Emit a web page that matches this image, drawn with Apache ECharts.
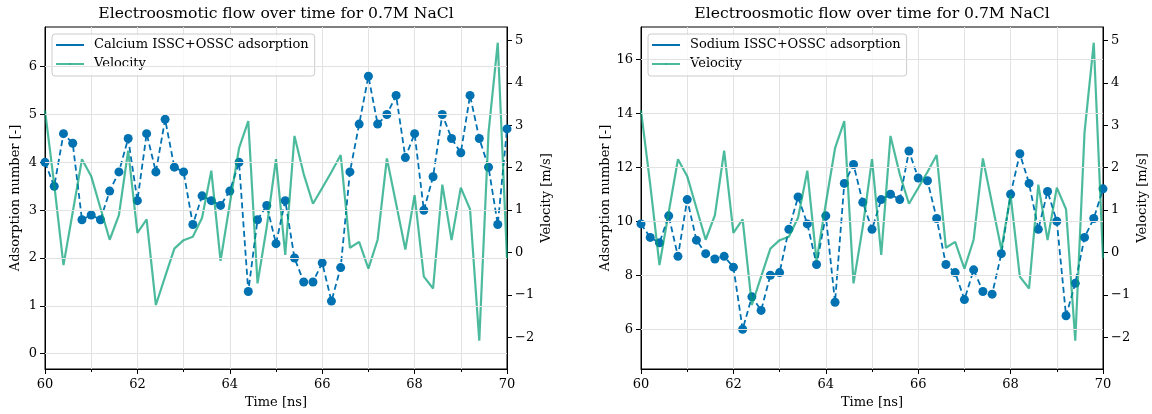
<!DOCTYPE html>
<html><head><meta charset="utf-8">
<script src="https://cdn.jsdelivr.net/npm/echarts@6/dist/echarts.min.js"></script>
<style>html,body{margin:0;padding:0;background:#fff}#c{width:1152px;height:414px}</style>
</head><body><div id="c"></div>
<script>
const times = [60.0,60.2,60.4,60.6,60.8,61.0,61.2,61.4,61.6,61.8,62.0,62.2,62.4,62.6,62.8,63.0,63.2,63.4,63.6,63.8,64.0,64.2,64.4,64.6,64.8,65.0,65.2,65.4,65.6,65.8,66.0,66.2,66.4,66.6,66.8,67.0,67.2,67.4,67.6,67.8,68.0,68.2,68.4,68.6,68.8,69.0,69.2,69.4,69.6,69.8,70.0];
const calcium = [4.0,3.5,4.6,4.4,2.8,2.9,2.8,3.4,3.8,4.5,3.2,4.6,3.8,4.9,3.9,3.8,2.7,3.3,3.2,3.1,3.4,4.0,1.3,2.8,3.1,2.3,3.2,2.0,1.5,1.5,1.9,1.1,1.8,3.8,4.8,5.8,4.8,5.0,5.4,4.1,4.6,3.0,3.7,5.0,4.5,4.2,5.4,4.5,3.9,2.7,4.7];
const sodium = [9.9,9.4,9.2,10.2,8.7,10.8,9.3,8.8,8.6,8.7,8.3,6.0,7.2,6.7,8.0,8.1,9.7,10.9,9.9,8.4,10.2,7.0,11.4,12.1,10.7,9.7,10.8,11.0,10.8,12.6,11.6,11.5,10.1,8.4,8.1,7.1,8.2,7.4,7.3,8.8,11.0,12.5,11.4,9.7,11.1,10.0,6.5,7.7,9.4,10.1,11.2];
const velocity = [3.35,1.6,-0.3,0.95,2.2,1.8,1.05,0.3,0.88,2.4,0.46,0.78,-1.24,-0.57,0.09,0.29,0.37,0.82,1.93,-0.2,1.15,2.46,3.1,-0.73,0.6,2.2,-0.06,2.75,1.85,1.15,1.52,1.9,2.3,0.11,0.25,-0.38,0.3,2.22,1.15,0.07,1.35,-0.57,-0.85,1.6,0.29,1.53,1.02,-2.08,2.83,4.95,-0.14];
const calciumTicks = [0,1,2,3,4,5,6];
const sodiumTicks = [6,8,10,12,14,16];
const velocityTicks = [-2,-1,0,1,2,3,4,5];
const titleText = 'Electroosmotic flow over time for 0.7M NaCl';
const calciumName = 'Calcium ISSC+OSSC adsorption';
const sodiumName = 'Sodium ISSC+OSSC adsorption';
const velocityName = 'Velocity';

const FONT = 'DejaVu Serif';
const FS = 13;
const BLUE = '#0072B2';
const GREEN = 'rgba(0,158,115,0.7)';
const GRIDC = '#e2e2e2';
const minus = v => String(v).replace('-', '\u2212');
const pairs = (xs, ys) => xs.map((x, i) => [x, ys[i]]);
const txt = (size) => ({fontFamily: FONT, fontSize: size, color: '#000'});

const grids = [
  {left: 45, top: 27, width: 462, height: 344, show: true, borderColor: '#000', borderWidth: 1, backgroundColor: 'transparent'},
  {left: 641, top: 27, width: 462, height: 344, show: true, borderColor: '#000', borderWidth: 1, backgroundColor: 'transparent'}
];

function xAxis(gi) {
  return {
    type: 'value', gridIndex: gi, min: 60, max: 70, interval: 2,
    name: 'Time [ns]', nameLocation: 'middle', nameGap: 27, nameTextStyle: txt(FS),
    axisLine: {show: true, onZero: false, lineStyle: {color: '#000', width: 1}},
    axisTick: {show: true, length: 5, lineStyle: {color: '#000', width: 1}},
    minorTick: {show: true, splitNumber: 2, length: 3, lineStyle: {color: '#000', width: 1}},
    axisLabel: Object.assign(txt(FS), {margin: 9, formatter: minus}),
    splitLine: {show: true, lineStyle: {color: GRIDC, width: 1}},
    minorSplitLine: {show: true, lineStyle: {color: GRIDC, width: 1}}
  };
}
function yAxis(gi, min, max, ticks, name, pos, gap) {
  return {
    type: 'value', gridIndex: gi, min: min, max: max, position: pos,
    name: name, nameLocation: 'middle', nameGap: gap, nameRotate: 90, nameTextStyle: txt(FS),
    axisLine: {show: true, onZero: false, lineStyle: {color: '#000', width: 1}},
    axisTick: {show: true, length: 5, customValues: ticks, lineStyle: {color: '#000', width: 1}},
    axisLabel: Object.assign(txt(FS), {margin: 8, customValues: ticks, formatter: minus}),
    splitLine: {show: false}
  };
}
function gridLines(xi, yi, ticks) {
  return {
    type: 'line', xAxisIndex: xi, yAxisIndex: yi, data: [], z: 1, silent: true,
    markLine: {
      silent: true, symbol: ['none', 'none'], label: {show: false}, animation: false,
      lineStyle: {color: GRIDC, width: 1, type: 'solid'},
      emphasis: {disabled: true},
      data: ticks.map(t => ({yAxis: t}))
    }
  };
}
function adsorption(xi, yi, name, vals) {
  return {
    type: 'line', name: name, xAxisIndex: xi, yAxisIndex: yi, data: pairs(times, vals), z: 3,
    symbol: 'circle', symbolSize: 9, showAllSymbol: true,
    itemStyle: {color: BLUE},
    lineStyle: {color: BLUE, width: 1.8, type: [6, 3.5]}
  };
}
function vel(xi, yi) {
  return {
    type: 'line', name: velocityName, xAxisIndex: xi, yAxisIndex: yi, data: pairs(times, velocity), z: 4,
    symbol: 'none', itemStyle: {color: GREEN},
    lineStyle: {color: GREEN, width: 2.2}
  };
}
function legend(left, first) {
  return {
    left: left, top: 34, orient: 'vertical', selectedMode: false,
    data: [first, velocityName],
    itemWidth: 28, itemHeight: 2, itemGap: 5, padding: [4, 6, 5, 3],
    backgroundColor: 'rgba(255,255,255,0.8)', borderColor: '#cccccc', borderWidth: 1, borderRadius: 3,
    lineStyle: {type: 'solid', width: 2},
    itemStyle: {borderWidth: 0},
    textStyle: Object.assign(txt(FS), {padding: [0, 0, 0, 5], lineHeight: 14})
  };
}

const chart = echarts.init(document.getElementById('c'), null, {renderer: 'canvas'});
chart.setOption({
  animation: false,
  backgroundColor: '#fff',
  grid: grids,
  xAxis: [xAxis(0), xAxis(1)],
  yAxis: [
    yAxis(0, -0.32, 6.83, calciumTicks, 'Adsorption number [-]', 'left', 23),
    yAxis(0, -2.75, 5.32, velocityTicks, 'Velocity [m/s]', 'right', 33),
    yAxis(1, 4.53, 17.19, sodiumTicks, 'Adsorption number [-]', 'left', 23),
    yAxis(1, -2.75, 5.32, velocityTicks, 'Velocity [m/s]', 'right', 33)
  ],
  legend: [legend(52, calciumName), legend(648, sodiumName)],
  graphic: [
    {type: 'text', x: 276, y: 14, style: {text: titleText, font: '15.6px "DejaVu Serif"', fill: '#000', align: 'center', verticalAlign: 'middle'}},
    {type: 'text', x: 872, y: 14, style: {text: titleText, font: '15.6px "DejaVu Serif"', fill: '#000', align: 'center', verticalAlign: 'middle'}}
  ],
  series: [
    gridLines(0, 0, calciumTicks),
    adsorption(0, 0, calciumName, calcium),
    vel(0, 1),
    gridLines(1, 2, sodiumTicks),
    adsorption(1, 2, sodiumName, sodium),
    vel(1, 3)
  ]
});
</script></body></html>
